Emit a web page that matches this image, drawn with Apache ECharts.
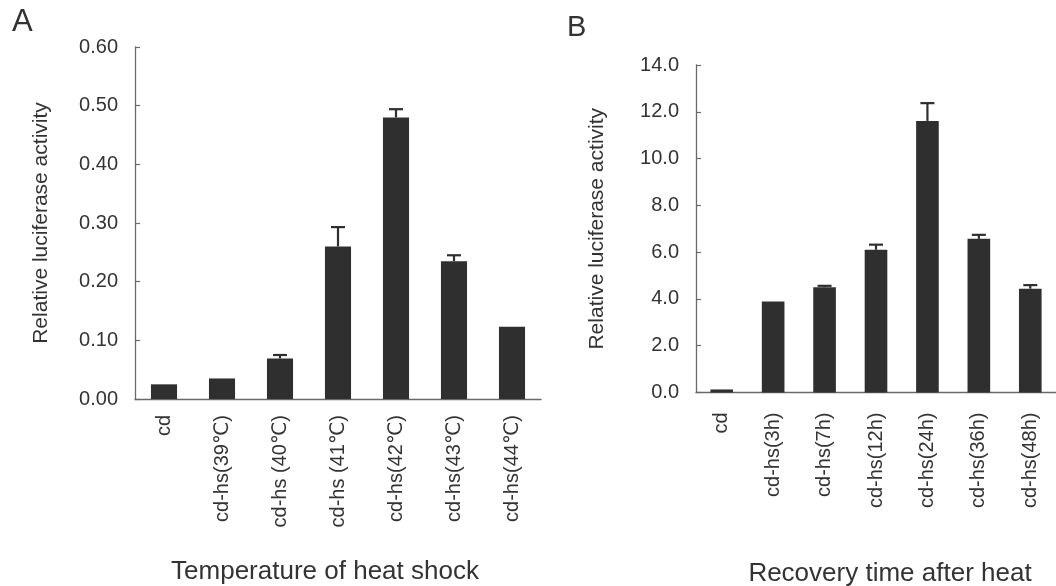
<!DOCTYPE html>
<html>
<head>
<meta charset="utf-8">
<title>Relative luciferase activity</title>
<script src="https://cdn.jsdelivr.net/npm/echarts@6/dist/echarts.min.js"></script>
<style>
  html, body { margin: 0; padding: 0; background: #ffffff; }
  #chart { width: 1056px; height: 586px; }
</style>
</head>
<body>
<div id="chart"></div>
<script>
// Panel A: heat shock temperature series
const categoriesA = ['cd', 'cd-hs(39℃)', 'cd-hs (40℃)', 'cd-hs (41℃)', 'cd-hs(42℃)', 'cd-hs(43℃)', 'cd-hs(44℃)'];
const valuesA = [0.025, 0.035, 0.069, 0.26, 0.48, 0.235, 0.123];
const errorsA = [0, 0, 0.006, 0.033, 0.014, 0.010, 0];

// Panel B: recovery time course
const categoriesB = ['cd', 'cd-hs(3h)', 'cd-hs(7h)', 'cd-hs(12h)', 'cd-hs(24h)', 'cd-hs(36h)', 'cd-hs(48h)'];
const valuesB = [0.13, 3.89, 4.50, 6.10, 11.61, 6.57, 4.44];
const errorsB = [0, 0, 0.06, 0.22, 0.76, 0.17, 0.15];

const yTicksA = { min: 0, max: 0.6, interval: 0.1, digits: 2 };
const yTicksB = { min: 0, max: 14, interval: 2, digits: 1 };

const FONT = '"Liberation Sans", Arial, "DejaVu Sans", "Noto Sans CJK SC", sans-serif';
const INK = '#333333';
const BAR = '#2f2f2f';
const AXIS = '#6a6a6a';

function xAxisFor(gridIndex, cats, margin) {
  return {
    type: 'category',
    gridIndex: gridIndex,
    data: cats,
    boundaryGap: true,
    axisLine: { lineStyle: { color: AXIS, width: 1.3 } },
    axisTick: { inside: true, length: 5, lineStyle: { color: AXIS, width: 1.2 } },
    axisLabel: {
      rotate: 90, margin: margin, interval: 0,
      color: INK, fontFamily: FONT, fontSize: 20
    }
  };
}

function yAxisFor(gridIndex, t, gap) {
  return {
    type: 'value',
    gridIndex: gridIndex,
    min: t.min, max: t.max, interval: t.interval,
    name: 'Relative luciferase activity',
    nameLocation: 'middle',
    nameGap: gap,
    nameTextStyle: { color: INK, fontFamily: FONT, fontSize: 21 },
    splitLine: { show: false },
    axisLine: { show: true, lineStyle: { color: AXIS, width: 1.3 } },
    axisTick: { show: true, inside: true, length: 5, lineStyle: { color: AXIS, width: 1.2 } },
    axisLabel: {
      margin: 17, color: INK, fontFamily: FONT, fontSize: 20,
      formatter: v => v.toFixed(t.digits)
    }
  };
}

// Upper whisker with a cap, drawn from value and its error
function errorBarRenderer(params, api) {
  const sd = api.value(2);
  if (!(sd > 0)) return null;
  const x = api.value(0);
  const v = api.value(1);
  const base = api.coord([x, v]);
  const top = api.coord([x, v + sd]);
  const half = 7;
  const style = { stroke: BAR, lineWidth: 2.2 };
  return {
    type: 'group',
    children: [
      { type: 'line', shape: { x1: base[0], y1: base[1], x2: top[0], y2: top[1] }, style: style },
      { type: 'line', shape: { x1: top[0] - half, y1: top[1], x2: top[0] + half, y2: top[1] }, style: style }
    ]
  };
}

function errorData(vals, errs) {
  return vals.map((v, i) => [i, v, errs[i]]);
}

const chart = echarts.init(document.getElementById('chart'), null, { renderer: 'canvas' });

chart.setOption({
  backgroundColor: '#ffffff',
  animation: false,
  textStyle: { fontFamily: FONT },
  grid: [
    { left: 135, right: 515, top: 47, bottom: 187, containLabel: false },
    { left: 696, right: -8, top: 65, bottom: 193.5, containLabel: false }
  ],
  xAxis: [xAxisFor(0, categoriesA, 16), xAxisFor(1, categoriesB, 20)],
  yAxis: [yAxisFor(0, yTicksA, 83), yAxisFor(1, yTicksB, 88)],
  series: [
    {
      type: 'bar', xAxisIndex: 0, yAxisIndex: 0,
      data: valuesA, barWidth: '45%',
      itemStyle: { color: BAR }
    },
    {
      type: 'custom', xAxisIndex: 0, yAxisIndex: 0, z: 5,
      renderItem: errorBarRenderer,
      encode: { x: 0, y: 1 },
      data: errorData(valuesA, errorsA)
    },
    {
      type: 'bar', xAxisIndex: 1, yAxisIndex: 1,
      data: valuesB, barWidth: '44%',
      itemStyle: { color: BAR }
    },
    {
      type: 'custom', xAxisIndex: 1, yAxisIndex: 1, z: 5,
      renderItem: errorBarRenderer,
      encode: { x: 0, y: 1 },
      data: errorData(valuesB, errorsB)
    }
  ],
  graphic: [
    { type: 'text', left: 12, top: 7, style: { text: 'A', fill: INK, font: '31px ' + FONT } },
    { type: 'text', left: 567, top: 13, style: { text: 'B', fill: INK, font: '29px ' + FONT } },
    {
      type: 'text', x: 325, y: 572,
      style: { text: 'Temperature of heat shock', fill: INK, font: '26px ' + FONT, textAlign: 'center', textVerticalAlign: 'middle' }
    },
    {
      type: 'text', x: 890, y: 574,
      style: { text: 'Recovery time after heat', fill: INK, font: '26px ' + FONT, textAlign: 'center', textVerticalAlign: 'middle' }
    }
  ]
});
</script>
</body>
</html>
